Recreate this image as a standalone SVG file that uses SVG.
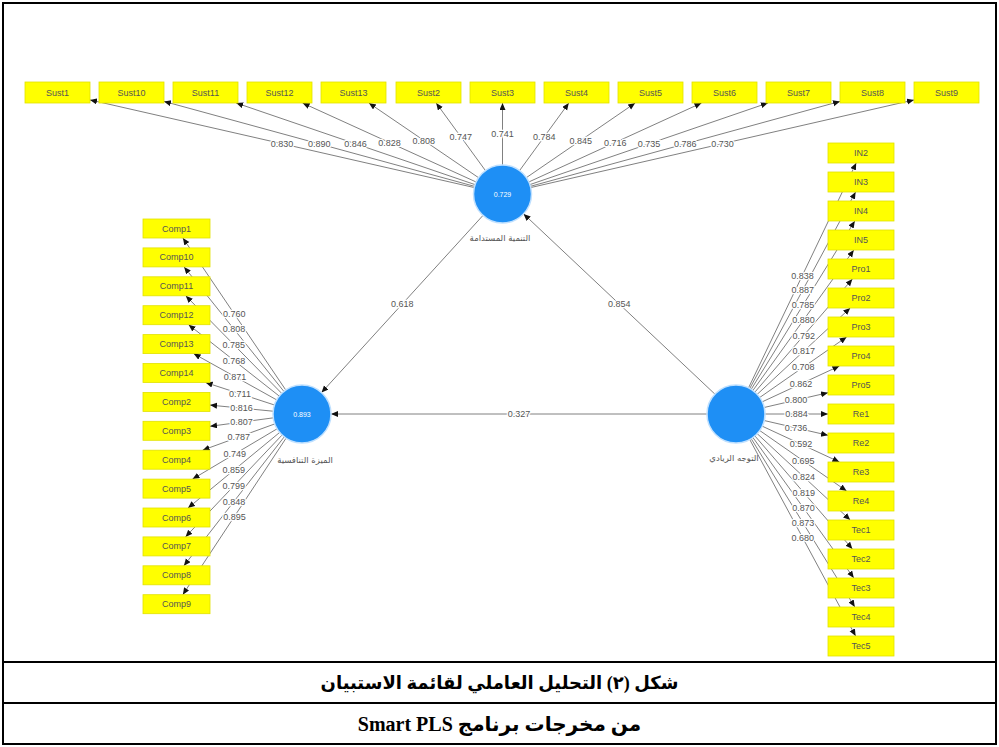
<svg xmlns="http://www.w3.org/2000/svg" width="999" height="747" viewBox="0 0 999 747">
<style>
.bx{fill:#ffff00;stroke:#e2e200;stroke-width:0.8}
.bt{font-family:"Liberation Sans","DejaVu Sans",sans-serif;font-size:9px;fill:#555;text-anchor:middle}
.ln{stroke:#606060;stroke-width:0.8;fill:none;marker-end:url(#ah)}
.lb{font-family:"Liberation Sans","DejaVu Sans",sans-serif;font-size:9px;fill:#555;text-anchor:middle;stroke:#fff;stroke-width:2.5;paint-order:stroke}
.cv{fill:#1e8ff5;stroke:#bfe0ff;stroke-width:1.5}
.ct{font-family:"Liberation Sans","DejaVu Sans",sans-serif;font-size:7px;fill:#fff;text-anchor:middle}
.cl{font-family:"DejaVu Sans","Noto Sans",sans-serif;font-size:8.5px;fill:#555;text-anchor:middle;direction:rtl}
.cap{font-family:"Liberation Serif","DejaVu Serif","DejaVu Sans",serif;font-weight:bold;font-size:18px;fill:#000;text-anchor:middle;direction:rtl}
</style>
<defs>
<marker id="ah" markerUnits="userSpaceOnUse" markerWidth="8" markerHeight="7" refX="7" refY="3" orient="auto"><path d="M0,0 L7,3 L0,6 z" fill="#111"/></marker>
</defs>
<rect x="0" y="0" width="999" height="747" fill="#fff"/>
<g id="frame" fill="none" stroke="#000" stroke-width="2">
<rect x="3" y="3" width="993" height="741"/>
<line x1="3" y1="662" x2="996" y2="662"/>
<line x1="3" y1="703" x2="996" y2="703"/>
</g>
<g id="connectors">
<path class="ln" d="M502.5,194 L90,99.9"/>
<path class="ln" d="M502.5,194 L164,101.4"/>
<path class="ln" d="M502.5,194 L236.2,103"/>
<path class="ln" d="M502.5,194 L302.6,103"/>
<path class="ln" d="M502.5,194 L368.9,103"/>
<path class="ln" d="M502.5,194 L436.2,103"/>
<path class="ln" d="M502.5,194 L502.5,103"/>
<path class="ln" d="M502.5,194 L568.8,103"/>
<path class="ln" d="M502.5,194 L635.2,103"/>
<path class="ln" d="M502.5,194 L701.5,103"/>
<path class="ln" d="M502.5,194 L767.9,103"/>
<path class="ln" d="M502.5,194 L840,101.4"/>
<path class="ln" d="M502.5,194 L914,99.9"/>
<path class="ln" d="M302,414 L182.9,238"/>
<path class="ln" d="M302,414 L184.1,266.9"/>
<path class="ln" d="M302,414 L185.8,295.8"/>
<path class="ln" d="M302,414 L188.6,324.7"/>
<path class="ln" d="M302,414 L193.6,353.6"/>
<path class="ln" d="M302,414 L205.6,382.5"/>
<path class="ln" d="M302,414 L210,405.1"/>
<path class="ln" d="M302,414 L210,426.3"/>
<path class="ln" d="M302,414 L202.6,450.2"/>
<path class="ln" d="M302,414 L192.5,479.1"/>
<path class="ln" d="M302,414 L188,508"/>
<path class="ln" d="M302,414 L185.5,536.9"/>
<path class="ln" d="M302,414 L183.9,565.8"/>
<path class="ln" d="M302,414 L182.8,594.7"/>
<path class="ln" d="M736,414 L856.2,163"/>
<path class="ln" d="M736,414 L855.6,192"/>
<path class="ln" d="M736,414 L854.8,221"/>
<path class="ln" d="M736,414 L853.8,250"/>
<path class="ln" d="M736,414 L852.4,279"/>
<path class="ln" d="M736,414 L850.2,308"/>
<path class="ln" d="M736,414 L846.6,337"/>
<path class="ln" d="M736,414 L839.4,366"/>
<path class="ln" d="M736,414 L828,392.7"/>
<path class="ln" d="M736,414 L828,414"/>
<path class="ln" d="M736,414 L828,435.3"/>
<path class="ln" d="M736,414 L839.4,462"/>
<path class="ln" d="M736,414 L846.6,491"/>
<path class="ln" d="M736,414 L850.2,520"/>
<path class="ln" d="M736,414 L852.4,549"/>
<path class="ln" d="M736,414 L853.8,578"/>
<path class="ln" d="M736,414 L854.8,607"/>
<path class="ln" d="M736,414 L855.6,636"/>
<path class="ln" d="M483,215.4 L321.5,392.6"/>
<path class="ln" d="M714.9,394.1 L523.6,213.9"/>
<path class="ln" d="M707,414 L331,414"/>
</g>
<g id="loadings">
<text class="lb" x="282.1" y="146.9">0.830</text>
<text class="lb" x="319.3" y="147.1">0.890</text>
<text class="lb" x="355.6" y="147">0.846</text>
<text class="lb" x="389.4" y="145.7">0.828</text>
<text class="lb" x="423.7" y="143.5">0.808</text>
<text class="lb" x="460.8" y="140">0.747</text>
<text class="lb" x="502.5" y="137.2">0.741</text>
<text class="lb" x="544.2" y="140">0.784</text>
<text class="lb" x="580.8" y="143.5">0.845</text>
<text class="lb" x="615.2" y="145.7">0.716</text>
<text class="lb" x="648.9" y="147">0.735</text>
<text class="lb" x="685.2" y="147.1">0.786</text>
<text class="lb" x="722.4" y="146.9">0.730</text>
<text class="lb" x="234.3" y="317.2">0.760</text>
<text class="lb" x="234" y="332.3">0.808</text>
<text class="lb" x="233.7" y="347.8">0.785</text>
<text class="lb" x="233.9" y="363.6">0.768</text>
<text class="lb" x="235.1" y="379.9">0.871</text>
<text class="lb" x="240" y="396.9">0.711</text>
<text class="lb" x="241.6" y="411.4">0.816</text>
<text class="lb" x="241.6" y="425.3">0.807</text>
<text class="lb" x="238.7" y="440.3">0.787</text>
<text class="lb" x="234.8" y="457.2">0.749</text>
<text class="lb" x="233.8" y="473.4">0.859</text>
<text class="lb" x="233.8" y="489.2">0.799</text>
<text class="lb" x="234" y="504.5">0.848</text>
<text class="lb" x="234.4" y="519.7">0.895</text>
<text class="lb" x="802.4" y="278.6">0.838</text>
<text class="lb" x="802.7" y="293.4">0.887</text>
<text class="lb" x="803" y="308.3">0.785</text>
<text class="lb" x="803.4" y="323.4">0.880</text>
<text class="lb" x="803.7" y="338.7">0.792</text>
<text class="lb" x="803.7" y="354.3">0.817</text>
<text class="lb" x="803.2" y="370.4">0.708</text>
<text class="lb" x="800.9" y="387.1">0.862</text>
<text class="lb" x="796.1" y="403.3">0.800</text>
<text class="lb" x="796.5" y="417.2">0.884</text>
<text class="lb" x="796.1" y="431.1">0.736</text>
<text class="lb" x="800.9" y="447.3">0.592</text>
<text class="lb" x="803.2" y="464">0.695</text>
<text class="lb" x="803.7" y="480.1">0.824</text>
<text class="lb" x="803.7" y="495.7">0.819</text>
<text class="lb" x="803.4" y="511">0.870</text>
<text class="lb" x="803" y="526.1">0.873</text>
<text class="lb" x="802.7" y="541">0.680</text>
<text class="lb" x="402.2" y="307.2">0.618</text>
<text class="lb" x="619.2" y="307.2">0.854</text>
<text class="lb" x="519" y="417.2">0.327</text>
</g>
<g id="sust">
<g id="Sust1"><rect class="bx" x="25" y="82" width="65" height="21"/><text class="bt" x="57.5" y="95.5">Sust1</text></g>
<g id="Sust10"><rect class="bx" x="99" y="82" width="65" height="21"/><text class="bt" x="131.5" y="95.5">Sust10</text></g>
<g id="Sust11"><rect class="bx" x="173" y="82" width="65" height="21"/><text class="bt" x="205.5" y="95.5">Sust11</text></g>
<g id="Sust12"><rect class="bx" x="247" y="82" width="65" height="21"/><text class="bt" x="279.5" y="95.5">Sust12</text></g>
<g id="Sust13"><rect class="bx" x="321" y="82" width="65" height="21"/><text class="bt" x="353.5" y="95.5">Sust13</text></g>
<g id="Sust2"><rect class="bx" x="396" y="82" width="65" height="21"/><text class="bt" x="428.5" y="95.5">Sust2</text></g>
<g id="Sust3"><rect class="bx" x="470" y="82" width="65" height="21"/><text class="bt" x="502.5" y="95.5">Sust3</text></g>
<g id="Sust4"><rect class="bx" x="544" y="82" width="65" height="21"/><text class="bt" x="576.5" y="95.5">Sust4</text></g>
<g id="Sust5"><rect class="bx" x="618" y="82" width="65" height="21"/><text class="bt" x="650.5" y="95.5">Sust5</text></g>
<g id="Sust6"><rect class="bx" x="692" y="82" width="65" height="21"/><text class="bt" x="724.5" y="95.5">Sust6</text></g>
<g id="Sust7"><rect class="bx" x="766" y="82" width="65" height="21"/><text class="bt" x="798.5" y="95.5">Sust7</text></g>
<g id="Sust8"><rect class="bx" x="840" y="82" width="65" height="21"/><text class="bt" x="872.5" y="95.5">Sust8</text></g>
<g id="Sust9"><rect class="bx" x="914" y="82" width="65" height="21"/><text class="bt" x="946.5" y="95.5">Sust9</text></g>
</g>
<g id="comp">
<g id="Comp1"><rect class="bx" x="143" y="219" width="67" height="19"/><text class="bt" x="176.5" y="231.5">Comp1</text></g>
<g id="Comp10"><rect class="bx" x="143" y="247.9" width="67" height="19"/><text class="bt" x="176.5" y="260.4">Comp10</text></g>
<g id="Comp11"><rect class="bx" x="143" y="276.8" width="67" height="19"/><text class="bt" x="176.5" y="289.3">Comp11</text></g>
<g id="Comp12"><rect class="bx" x="143" y="305.7" width="67" height="19"/><text class="bt" x="176.5" y="318.2">Comp12</text></g>
<g id="Comp13"><rect class="bx" x="143" y="334.6" width="67" height="19"/><text class="bt" x="176.5" y="347.1">Comp13</text></g>
<g id="Comp14"><rect class="bx" x="143" y="363.5" width="67" height="19"/><text class="bt" x="176.5" y="376">Comp14</text></g>
<g id="Comp2"><rect class="bx" x="143" y="392.4" width="67" height="19"/><text class="bt" x="176.5" y="404.9">Comp2</text></g>
<g id="Comp3"><rect class="bx" x="143" y="421.3" width="67" height="19"/><text class="bt" x="176.5" y="433.8">Comp3</text></g>
<g id="Comp4"><rect class="bx" x="143" y="450.2" width="67" height="19"/><text class="bt" x="176.5" y="462.7">Comp4</text></g>
<g id="Comp5"><rect class="bx" x="143" y="479.1" width="67" height="19"/><text class="bt" x="176.5" y="491.6">Comp5</text></g>
<g id="Comp6"><rect class="bx" x="143" y="508" width="67" height="19"/><text class="bt" x="176.5" y="520.5">Comp6</text></g>
<g id="Comp7"><rect class="bx" x="143" y="536.9" width="67" height="19"/><text class="bt" x="176.5" y="549.4">Comp7</text></g>
<g id="Comp8"><rect class="bx" x="143" y="565.8" width="67" height="19"/><text class="bt" x="176.5" y="578.3">Comp8</text></g>
<g id="Comp9"><rect class="bx" x="143" y="594.7" width="67" height="19"/><text class="bt" x="176.5" y="607.2">Comp9</text></g>
</g>
<g id="entre">
<g id="IN2"><rect class="bx" x="828" y="143" width="66" height="20"/><text class="bt" x="861" y="156">IN2</text></g>
<g id="IN3"><rect class="bx" x="828" y="172" width="66" height="20"/><text class="bt" x="861" y="185">IN3</text></g>
<g id="IN4"><rect class="bx" x="828" y="201" width="66" height="20"/><text class="bt" x="861" y="214">IN4</text></g>
<g id="IN5"><rect class="bx" x="828" y="230" width="66" height="20"/><text class="bt" x="861" y="243">IN5</text></g>
<g id="Pro1"><rect class="bx" x="828" y="259" width="66" height="20"/><text class="bt" x="861" y="272">Pro1</text></g>
<g id="Pro2"><rect class="bx" x="828" y="288" width="66" height="20"/><text class="bt" x="861" y="301">Pro2</text></g>
<g id="Pro3"><rect class="bx" x="828" y="317" width="66" height="20"/><text class="bt" x="861" y="330">Pro3</text></g>
<g id="Pro4"><rect class="bx" x="828" y="346" width="66" height="20"/><text class="bt" x="861" y="359">Pro4</text></g>
<g id="Pro5"><rect class="bx" x="828" y="375" width="66" height="20"/><text class="bt" x="861" y="388">Pro5</text></g>
<g id="Re1"><rect class="bx" x="828" y="404" width="66" height="20"/><text class="bt" x="861" y="417">Re1</text></g>
<g id="Re2"><rect class="bx" x="828" y="433" width="66" height="20"/><text class="bt" x="861" y="446">Re2</text></g>
<g id="Re3"><rect class="bx" x="828" y="462" width="66" height="20"/><text class="bt" x="861" y="475">Re3</text></g>
<g id="Re4"><rect class="bx" x="828" y="491" width="66" height="20"/><text class="bt" x="861" y="504">Re4</text></g>
<g id="Tec1"><rect class="bx" x="828" y="520" width="66" height="20"/><text class="bt" x="861" y="533">Tec1</text></g>
<g id="Tec2"><rect class="bx" x="828" y="549" width="66" height="20"/><text class="bt" x="861" y="562">Tec2</text></g>
<g id="Tec3"><rect class="bx" x="828" y="578" width="66" height="20"/><text class="bt" x="861" y="591">Tec3</text></g>
<g id="Tec4"><rect class="bx" x="828" y="607" width="66" height="20"/><text class="bt" x="861" y="620">Tec4</text></g>
<g id="Tec5"><rect class="bx" x="828" y="636" width="66" height="20"/><text class="bt" x="861" y="649">Tec5</text></g>
</g>
<g id="sustainable">
<circle class="cv" cx="502.5" cy="194" r="29"/>
<text class="ct" x="502.5" y="196.5">0.729</text>
<text class="cl" x="500" y="241">التنمية المستدامة</text>
</g>
<g id="competitive">
<circle class="cv" cx="302" cy="414" r="29"/>
<text class="ct" x="302" y="416.5">0.893</text>
<text class="cl" x="305" y="463">الميزة التنافسية</text>
</g>
<g id="entrepreneurial">
<circle class="cv" cx="736" cy="414" r="29"/>
<text class="cl" x="734" y="461">التوجه الريادي</text>
</g>
<g id="captions">
<text class="cap" x="499.5" y="689">شكل (٢) التحليل العاملي لقائمة الاستبيان</text>
<text class="cap" x="499.5" y="731" style="font-size:20px">من مخرجات برنامج Smart PLS</text>
</g>
</svg>
